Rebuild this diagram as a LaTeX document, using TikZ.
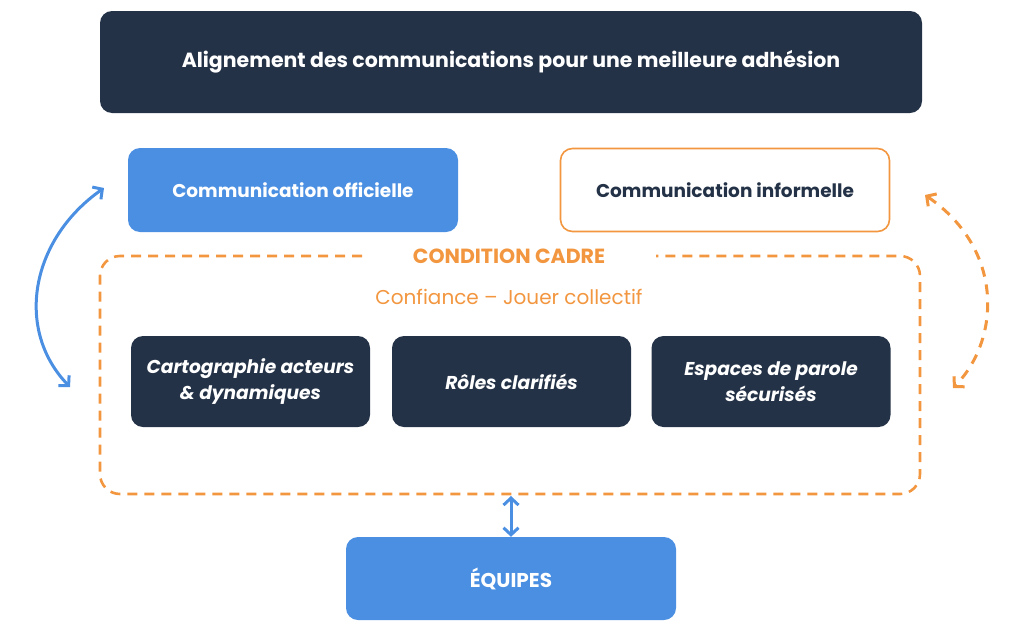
\documentclass[tikz,border=0pt]{standalone}
\usepackage{fontspec}
\setmainfont{Poppins}
\usetikzlibrary{arrows.meta}
\definecolor{navy}{HTML}{243247}
\definecolor{bleu}{HTML}{4A8FE2}
\definecolor{orng}{HTML}{F2963F}
\tikzset{
  box/.style={rounded corners=12pt, inner sep=0pt, align=center, font=\fontsize{18.5}{22}\selectfont\bfseries},
  darkbox/.style={box, fill=navy, text=white},
  bluebox/.style={box, fill=bleu, text=white},
  inner/.style={darkbox, minimum width=239pt, minimum height=91pt, font=\fontsize{18.6}{26}\selectfont\bfseries\itshape},
  dtip/.style={{Straight Barb[length=7pt,width=15pt]}-{Straight Barb[length=7pt,width=15pt]}},
}
\begin{document}
\begin{tikzpicture}[x=1pt,y=-1pt]
\useasboundingbox (0,0) rectangle (1024,629);
\node[darkbox, minimum width=822pt, minimum height=102pt, font=\fontsize{20.5}{24}\selectfont\bfseries] (title) at (511,62) {Alignement des communications pour une meilleure adhésion};
\node[bluebox, minimum width=330pt, minimum height=84pt] (co) at (293,190) {Communication officielle};
\node[box, draw=orng, line width=1.6pt, fill=white, text=navy, minimum width=329pt, minimum height=83pt] (ci) at (725,190) {Communication informelle};
% dashed frame
\draw[orng, line width=2.6pt, dash pattern=on 10pt off 7pt, rounded corners=20pt]
  (362,256) -- (100,256) -- (100,494) -- (920,494) -- (920,256) -- (656,256);
\node[text=orng, font=\fontsize{20.5}{24}\selectfont\bfseries] (cc) at (509,256) {CONDITION CADRE};
\node[text=orng, font=\fontsize{20}{24}\selectfont] (conf) at (509,297) {Confiance – Jouer collectif};
\node[inner] (b1) at (250.5,381.5) {Cartographie acteurs\\\& dynamiques};
\node[inner] (b2) at (511.5,381.5) {Rôles clarifiés};
\node[inner] (b3) at (771,381.5) {Espaces de parole\\sécurisés};
\node[bluebox, minimum width=330pt, minimum height=83pt, font=\fontsize{20}{24}\selectfont\bfseries] (eq) at (511,578.5) {ÉQUIPES};
\coordinate (frametop) at (511,496);
\draw[bleu, line width=3pt, dtip] (frametop) -- (eq.north);
% side arcs
\coordinate (la) at (70,387);
\coordinate (lb) at (104,188);
\coordinate (ra) at (925,195);
\coordinate (rb) at (953,388);
\draw[bleu, line width=3pt, dtip] (la) .. controls (15,330) and (30,240) .. (lb);
\draw[orng, line width=3pt, dash pattern=on 10pt off 8pt, dtip] (ra) .. controls (1005,250) and (1000,340) .. (rb);
\end{tikzpicture}
\end{document}
